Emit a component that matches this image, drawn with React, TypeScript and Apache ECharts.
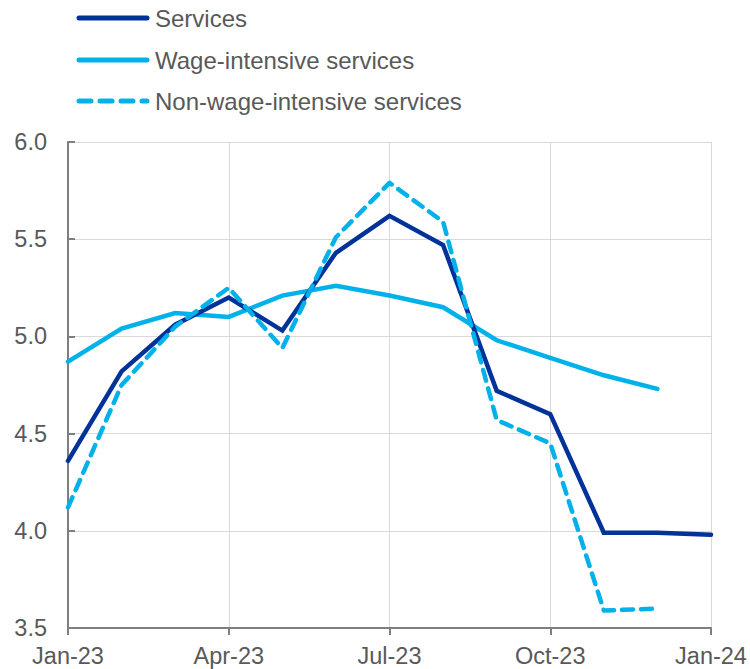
import React, { useEffect, useRef } from "react";
import * as echarts from "echarts";

const months = [
  "Jan-23", "Feb-23", "Mar-23", "Apr-23", "May-23", "Jun-23", "Jul-23",
  "Aug-23", "Sep-23", "Oct-23", "Nov-23", "Dec-23", "Jan-24",
];

const services = [4.36, 4.82, 5.06, 5.2, 5.03, 5.43, 5.62, 5.47, 4.72, 4.6, 3.99, 3.99, 3.98];
const wageIntensive = [4.87, 5.04, 5.12, 5.1, 5.21, 5.26, 5.21, 5.15, 4.98, 4.89, 4.8, 4.73, null];
const nonWageIntensive = [4.12, 4.75, 5.05, 5.25, 4.94, 5.51, 5.79, 5.59, 4.57, 4.45, 3.59, 3.6, null];

const legendNames = ["Services", "Wage-intensive services", "Non-wage-intensive services"];

const DARK_BLUE = "#003299";
const LIGHT_BLUE = "#00B1EA";
const TEXT = "#595959";
const FONT = "Liberation Sans, Arial, sans-serif";
const FS = 23.5;
const LEGEND_FS = 24;
const DASH = [11, 8];

// Legend rows drawn as graphics: a line sample followed by the label
const legendStyles = [
  { color: DARK_BLUE, dash: null as number[] | null },
  { color: LIGHT_BLUE, dash: null as number[] | null },
  { color: LIGHT_BLUE, dash: [12, 9] },
];

function buildLegend() {
  const rowY = [18, 60, 101];
  const elements: any[] = [];
  legendNames.forEach((name, i) => {
    const s = legendStyles[i];
    elements.push({
      type: "line",
      shape: { x1: 79, y1: rowY[i], x2: 147, y2: rowY[i] },
      style: {
        stroke: s.color,
        lineWidth: 5,
        lineCap: "round",
        lineDash: s.dash ?? undefined,
      },
    });
    elements.push({
      type: "text",
      x: 155,
      y: rowY[i],
      style: {
        text: name,
        fontSize: LEGEND_FS,
        fontFamily: FONT,
        fill: TEXT,
        textVerticalAlign: "middle",
        verticalAlign: "middle",
      },
    });
  });
  return elements;
}

export default function App() {
  const ref = useRef<HTMLDivElement>(null);

  useEffect(() => {
    if (!ref.current) return;
    const chart = echarts.init(ref.current, undefined, { renderer: "svg" });
    chart.setOption({
      animation: false,
      textStyle: { fontFamily: FONT },
      graphic: buildLegend(),
      grid: { left: 68, right: 39, top: 142, bottom: 41, containLabel: false },
      xAxis: {
        type: "category",
        data: months,
        boundaryGap: false,
        axisLine: { lineStyle: { color: "#7f7f7f", width: 2 } },
        axisTick: { interval: 2, length: 7, lineStyle: { color: "#7f7f7f", width: 2 } },
        axisLabel: { interval: 2, fontSize: FS, color: TEXT, fontFamily: FONT, margin: 16 },
        splitLine: { show: true, interval: 2, lineStyle: { color: "#d9d9d9", width: 1 } },
      },
      yAxis: {
        type: "value",
        min: 3.5,
        max: 6,
        interval: 0.5,
        axisLine: { show: true, lineStyle: { color: "#7f7f7f", width: 2 } },
        axisTick: { show: true, inside: true, length: 7, lineStyle: { color: "#7f7f7f", width: 2 } },
        axisLabel: {
          fontSize: FS,
          color: TEXT,
          fontFamily: FONT,
          margin: 21,
          formatter: (v: number) => v.toFixed(1),
        },
        splitLine: { lineStyle: { color: "#d9d9d9", width: 1 } },
      },
      series: [
        {
          name: legendNames[0],
          type: "line",
          data: services,
          symbol: "none",
          z: 3,
          lineStyle: { color: DARK_BLUE, width: 4.5, cap: "round", join: "miter" },
          itemStyle: { color: DARK_BLUE },
        },
        {
          name: legendNames[1],
          type: "line",
          data: wageIntensive,
          symbol: "none",
          z: 2,
          lineStyle: { color: LIGHT_BLUE, width: 4.5, cap: "round", join: "miter" },
          itemStyle: { color: LIGHT_BLUE },
        },
        {
          name: legendNames[2],
          type: "line",
          data: nonWageIntensive,
          symbol: "none",
          z: 4,
          lineStyle: { color: LIGHT_BLUE, width: 4.5, type: DASH, cap: "round", join: "round" },
          itemStyle: { color: LIGHT_BLUE },
        },
      ],
    });
    return () => chart.dispose();
  }, []);

  return (
    <div
      ref={ref}
      style={{ position: "absolute", left: 0, top: 0, width: 750, height: 669 }}
    />
  );
}
